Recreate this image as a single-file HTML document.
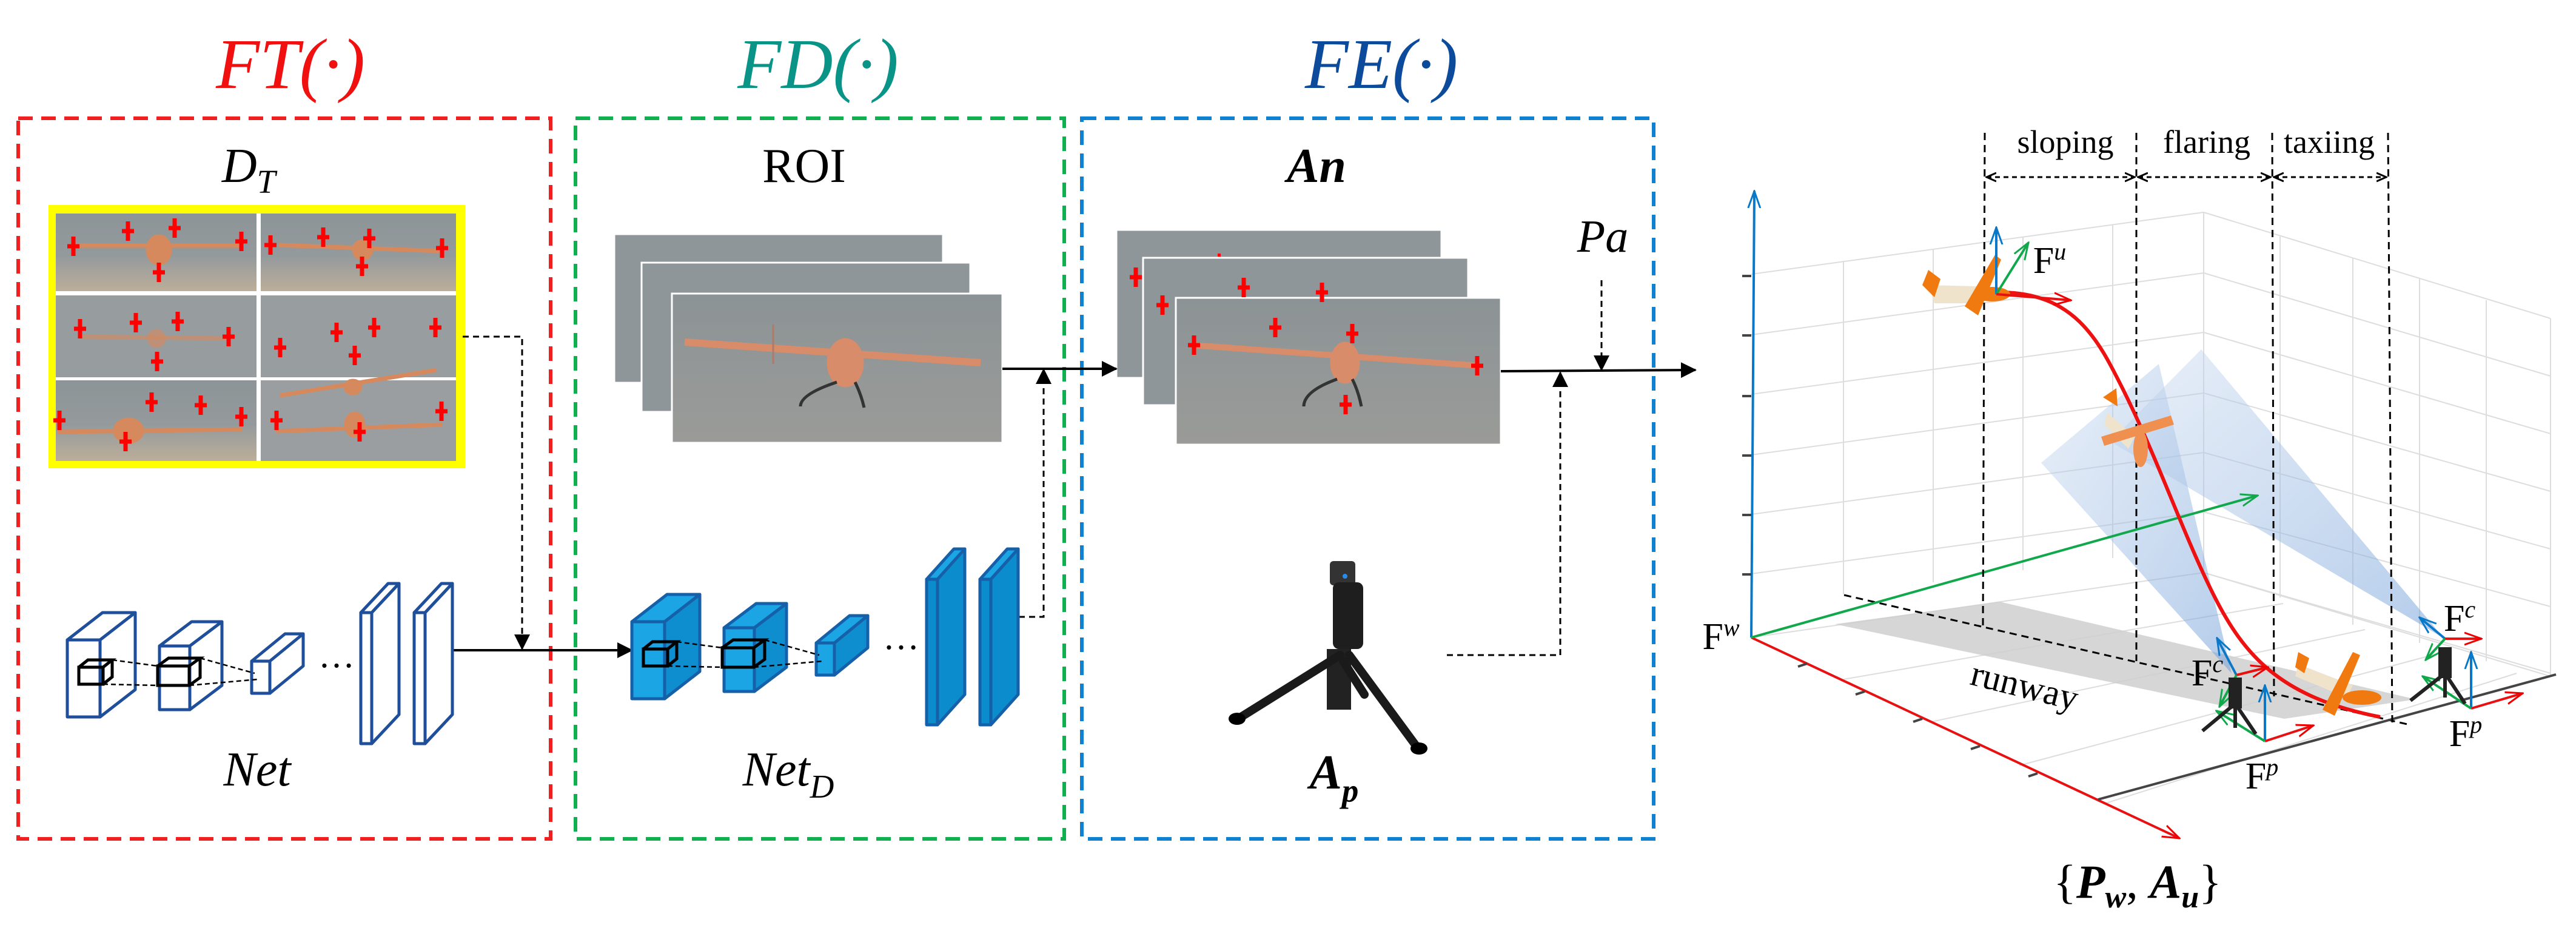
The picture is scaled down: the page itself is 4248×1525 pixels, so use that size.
<!DOCTYPE html>
<html><head><meta charset="utf-8"><style>
html,body{margin:0;padding:0;background:#fff;}
svg{display:block;font-family:"Liberation Serif","DejaVu Serif",serif;}
svg text{font-family:"Liberation Serif","DejaVu Serif",serif !important;}
</style></head><body>
<svg width="4248" height="1525" viewBox="0 0 4248 1525" xmlns="http://www.w3.org/2000/svg" font-family="Liberation Serif, serif">
<defs>
<marker id="ahs" markerWidth="26" markerHeight="30" refX="24" refY="15" orient="auto" markerUnits="userSpaceOnUse" viewBox="0 0 26 30"><path d="M0,2L26,15L0,28z" fill="#000"/></marker>
<marker id="oa" markerWidth="18" markerHeight="18" refX="16" refY="9" orient="auto-start-reverse" markerUnits="userSpaceOnUse" viewBox="0 0 18 18"><path d="M0,2L16,9L0,16" fill="none" stroke="#000" stroke-width="3"/></marker>
<marker id="ar" markerWidth="30" markerHeight="24" refX="28" refY="12" orient="auto" markerUnits="userSpaceOnUse" viewBox="0 0 30 24"><path d="M0,2L28,12L0,22" fill="none" stroke="#e00" stroke-width="3"/></marker>
<marker id="ab" markerWidth="30" markerHeight="24" refX="28" refY="12" orient="auto" markerUnits="userSpaceOnUse" viewBox="0 0 30 24"><path d="M0,2L28,12L0,22" fill="none" stroke="#0a78c8" stroke-width="3"/></marker>
<marker id="ag" markerWidth="30" markerHeight="24" refX="28" refY="12" orient="auto" markerUnits="userSpaceOnUse" viewBox="0 0 30 24"><path d="M0,2L28,12L0,22" fill="none" stroke="#10a84a" stroke-width="3"/></marker>
<linearGradient id="sky" x1="0" y1="0" x2="0" y2="1"><stop offset="0" stop-color="#8d9497"/><stop offset="0.55" stop-color="#949a9c"/><stop offset="1" stop-color="#bcae9a"/></linearGradient>
<linearGradient id="gry" x1="0" y1="0" x2="0" y2="1"><stop offset="0" stop-color="#8c9396"/><stop offset="1" stop-color="#9a9b98"/></linearGradient>
<linearGradient id="fr" x1="0" y1="0" x2="1" y2="1"><stop offset="0" stop-color="#c9d9ef" stop-opacity="0.6"/><stop offset="1" stop-color="#6f9ed8" stop-opacity="0.75"/></linearGradient>
<g id="cross"><path d="M-10,0H10M0,-16V16" stroke="#f00" stroke-width="7"/></g>
</defs>

<text x="479" y="145" font-size="118" font-style="italic" fill="#f01010" text-anchor="middle" font-family="Liberation Serif, serif">FT(·)</text>
<text x="1349" y="145" font-size="118" font-style="italic" fill="#0a9488" text-anchor="middle" font-family="Liberation Serif, serif">FD(·)</text>
<text x="2278" y="145" font-size="118" font-style="italic" fill="#0c4a9c" text-anchor="middle" font-family="Liberation Serif, serif">FE(·)</text>

<rect x="30" y="195" width="878" height="1188" fill="none" stroke="#f02020" stroke-width="6" stroke-dasharray="24 14"/>
<rect x="949" y="195" width="806" height="1188" fill="none" stroke="#10b050" stroke-width="6" stroke-dasharray="24 14"/>
<rect x="1784" y="195" width="943" height="1188" fill="none" stroke="#1080d0" stroke-width="6" stroke-dasharray="24 14"/>

<text x="410" y="300" font-size="80" font-style="italic" text-anchor="middle" font-family="Liberation Serif, serif">D<tspan font-size="55" dy="18">T</tspan></text>
<text x="1326" y="300" font-size="80" text-anchor="middle" font-family="Liberation Serif, serif">ROI</text>
<text x="2171" y="300" font-size="80" font-style="italic" font-weight="bold" text-anchor="middle" font-family="Liberation Serif, serif">An</text>
<text x="2643" y="415" font-size="76" font-style="italic" text-anchor="middle" font-family="Liberation Serif, serif">Pa</text>
<text x="424" y="1295" font-size="80" font-style="italic" text-anchor="middle" font-family="Liberation Serif, serif">Net</text>
<text x="1300" y="1295" font-size="80" font-style="italic" text-anchor="middle" font-family="Liberation Serif, serif">Net<tspan font-size="55" dy="20">D</tspan></text>
<text x="2200" y="1300" font-size="80" font-style="italic" font-weight="bold" text-anchor="middle" font-family="Liberation Serif, serif">A<tspan font-size="55" dy="22">p</tspan></text>

<rect x="80" y="338" width="687" height="434" fill="#ffff00"/>
<rect x="92" y="352" width="660" height="408" fill="#fff"/>
<rect x="92" y="352" width="331" height="128" fill="url(#sky)"/>
<rect x="430" y="352" width="322" height="128" fill="url(#sky)"/>
<rect x="92" y="487" width="331" height="135" fill="#979c9e"/>
<rect x="430" y="487" width="322" height="135" fill="#989d9f"/>
<rect x="92" y="627" width="331" height="133" fill="url(#sky)"/>
<rect x="430" y="627" width="322" height="133" fill="#9b9ea0"/>
<g stroke="#d7895e" stroke-width="7" fill="#d7895e">
<path d="M120,405H400"/><ellipse cx="262" cy="412" rx="18" ry="22"/>
<path d="M460,404L730,414"/><ellipse cx="598" cy="412" rx="14" ry="14"/>
<path d="M130,555L380,558" opacity="0.6"/><ellipse cx="258" cy="558" rx="12" ry="12" opacity="0.6"/>
<path d="M462,652L720,610"/><ellipse cx="582" cy="638" rx="12" ry="10"/>
<path d="M95,712L400,708"/><ellipse cx="212" cy="710" rx="22" ry="18"/>
<path d="M455,711L730,700"/><ellipse cx="585" cy="700" rx="14" ry="18"/>
</g>
<g>
<use href="#cross" x="121" y="406"/><use href="#cross" x="211" y="381"/><use href="#cross" x="288" y="376"/><use href="#cross" x="398" y="398"/><use href="#cross" x="262" y="449"/>
<use href="#cross" x="446" y="404"/><use href="#cross" x="533" y="391"/><use href="#cross" x="609" y="393"/><use href="#cross" x="729" y="409"/><use href="#cross" x="597" y="439"/>
<use href="#cross" x="132" y="542"/><use href="#cross" x="224" y="532"/><use href="#cross" x="293" y="530"/><use href="#cross" x="377" y="555"/><use href="#cross" x="259" y="596"/>
<use href="#cross" x="462" y="573"/><use href="#cross" x="555" y="548"/><use href="#cross" x="617" y="540"/><use href="#cross" x="718" y="540"/><use href="#cross" x="585" y="586"/>
<use href="#cross" x="98" y="693"/><use href="#cross" x="250" y="663"/><use href="#cross" x="331" y="668"/><use href="#cross" x="398" y="687"/><use href="#cross" x="207" y="728"/>
<use href="#cross" x="456" y="693"/><use href="#cross" x="728" y="678"/><use href="#cross" x="593" y="712"/>
</g>

<rect x="1013" y="386" width="542" height="245" fill="#8f969a" stroke="#fff" stroke-width="3"/>
<rect x="1058" y="433" width="542" height="246" fill="#8f969a" stroke="#fff" stroke-width="3"/>
<rect x="1108" y="484" width="545" height="246" fill="url(#gry)" stroke="#fff" stroke-width="3"/>
<g stroke="#d98c6a" fill="#d98c6a">
<path d="M1129,564L1617,598" stroke-width="12"/>
<ellipse cx="1394" cy="598" rx="30" ry="40"/>
<path d="M1275,535V600" stroke-width="3" stroke="#b07a66"/>
</g>
<path d="M1380,630Q1320,650 1320,670M1410,630Q1420,650 1425,672" stroke="#333" stroke-width="5" fill="none"/>

<rect x="1841" y="379" width="536" height="244" fill="#8f969a" stroke="#fff" stroke-width="3"/>
<rect x="1885" y="425" width="536" height="243" fill="#8f969a" stroke="#fff" stroke-width="3"/>
<rect x="1939" y="491" width="536" height="242" fill="url(#gry)" stroke="#fff" stroke-width="3"/>
<g stroke="#d98c6a" fill="#d98c6a">
<path d="M1966,569L2439,603" stroke-width="10"/>
<ellipse cx="2218" cy="598" rx="24" ry="34"/>
</g>
<path d="M2205,625Q2150,645 2150,670M2230,625Q2240,645 2245,670" stroke="#333" stroke-width="5" fill="none"/>
<g>
<use href="#cross" x="1873" y="457"/><use href="#cross" x="1917" y="503"/><use href="#cross" x="2051" y="474"/><use href="#cross" x="2180" y="482"/><use href="#cross" x="2103" y="540"/><use href="#cross" x="2230" y="550"/><use href="#cross" x="1969" y="569"/><use href="#cross" x="2436" y="603"/><use href="#cross" x="2219" y="667"/>
<rect x="2008" y="418" width="5" height="5" fill="#f00"/>
</g>

<line x1="1653" y1="608" x2="1841" y2="608" stroke="#000" stroke-width="4" marker-end="url(#ahs)"/>
<line x1="2475" y1="612" x2="2796" y2="610" stroke="#000" stroke-width="4" marker-end="url(#ahs)"/>
<line x1="2641" y1="462" x2="2641" y2="610" stroke="#000" stroke-width="3" stroke-dasharray="10 7" marker-end="url(#ahs)"/>
<polyline points="2386,1080 2573,1080 2573,614" fill="none" stroke="#000" stroke-width="3" stroke-dasharray="10 7" marker-end="url(#ahs)"/>
<polyline points="763,555 861,555 861,1070" fill="none" stroke="#000" stroke-width="3" stroke-dasharray="10 7" marker-end="url(#ahs)"/>
<line x1="747" y1="1072" x2="1042" y2="1072" stroke="#000" stroke-width="4" marker-end="url(#ahs)"/>
<polyline points="1680,1017 1721,1017 1721,609" fill="none" stroke="#000" stroke-width="3" stroke-dasharray="10 7" marker-end="url(#ahs)"/>

<g fill="#fff" stroke="#1f4f9a" stroke-width="5" stroke-linejoin="round">
<rect x="111" y="1055" width="54" height="127"/><polygon points="111,1055 169,1010 223,1010 165,1055"/><polygon points="165,1055 223,1010 223,1137 165,1182"/>
<rect x="263" y="1065" width="50" height="105"/><polygon points="263,1065 316,1025 366,1025 313,1065"/><polygon points="313,1065 366,1025 366,1130 313,1170"/>
<rect x="415" y="1090" width="30" height="53"/><polygon points="415,1090 470,1045 500,1045 445,1090"/><polygon points="445,1090 500,1045 500,1098 445,1143"/>
<rect x="595" y="1010" width="18" height="216"/><polygon points="595,1010 640,962 658,962 613,1010"/><polygon points="613,1010 658,962 658,1178 613,1226"/>
<rect x="683" y="1010" width="18" height="216"/><polygon points="683,1010 728,962 746,962 701,1010"/><polygon points="701,1010 746,962 746,1178 701,1226"/>
</g>
<g fill="none" stroke="#000" stroke-width="5">
<rect x="130" y="1100" width="40" height="28"/><polyline points="130,1100 145,1088 185,1088 170,1100"/><polyline points="185,1088 185,1116 170,1128"/>
<rect x="260" y="1098" width="52" height="32"/><polyline points="260,1098 278,1085 330,1085 312,1098"/><polyline points="330,1085 330,1117 312,1130"/>
</g>
<g stroke="#000" stroke-width="2.5" stroke-dasharray="8 5"><line x1="185" y1="1088" x2="260" y2="1098"/><line x1="170" y1="1128" x2="260" y2="1130"/><line x1="330" y1="1085" x2="420" y2="1110"/><line x1="312" y1="1130" x2="425" y2="1120"/></g>
<text x="555" y="1100" font-size="60" text-anchor="middle" font-family="Liberation Serif, serif">…</text>

<g transform="translate(931,-30)">
<g fill="#1ba5e5" stroke="#1560a8" stroke-width="5" stroke-linejoin="round">
<rect x="111" y="1055" width="54" height="127"/><polygon points="111,1055 169,1010 223,1010 165,1055"/><polygon points="165,1055 223,1010 223,1137 165,1182" fill="#0f8ecf"/>
<rect x="263" y="1065" width="50" height="105"/><polygon points="263,1065 316,1025 366,1025 313,1065"/><polygon points="313,1065 366,1025 366,1130 313,1170" fill="#0f8ecf"/>
<rect x="415" y="1090" width="30" height="53"/><polygon points="415,1090 470,1045 500,1045 445,1090"/><polygon points="445,1090 500,1045 500,1098 445,1143" fill="#0f8ecf"/>
<rect x="597" y="985" width="18" height="240" fill="#0b8ccc"/><polygon points="597,985 642,935 660,935 615,985"/><polygon points="615,985 660,935 660,1175 615,1225" fill="#0b8ccc"/>
<rect x="685" y="985" width="18" height="240" fill="#0b8ccc"/><polygon points="685,985 730,935 748,935 703,985"/><polygon points="703,985 748,935 748,1175 703,1225" fill="#0b8ccc"/>
</g>
<g fill="none" stroke="#000" stroke-width="5">
<rect x="130" y="1100" width="40" height="28"/><polyline points="130,1100 145,1088 185,1088 170,1100"/><polyline points="185,1088 185,1116 170,1128"/>
<rect x="260" y="1098" width="52" height="32"/><polyline points="260,1098 278,1085 330,1085 312,1098"/><polyline points="330,1085 330,1117 312,1130"/>
</g>
<g stroke="#000" stroke-width="2.5" stroke-dasharray="8 5"><line x1="185" y1="1088" x2="260" y2="1098"/><line x1="170" y1="1128" x2="260" y2="1130"/><line x1="330" y1="1085" x2="420" y2="1110"/><line x1="312" y1="1130" x2="425" y2="1120"/></g>
<text x="555" y="1100" font-size="60" text-anchor="middle" font-family="Liberation Serif, serif">…</text>
</g>

<g>
<rect x="2193" y="925" width="42" height="40" rx="6" fill="#333"/>
<rect x="2198" y="960" width="50" height="110" rx="10" fill="#1e1e1e"/>
<rect x="2188" y="1070" width="40" height="100" fill="#222"/>
<path d="M2210,1080L2045,1183M2225,1080L2337,1232M2215,1090L2250,1145" stroke="#1a1a1a" stroke-width="14" stroke-linecap="round" fill="none"/>
<ellipse cx="2040" cy="1185" rx="14" ry="10" fill="#000"/><ellipse cx="2340" cy="1234" rx="14" ry="10" fill="#000"/>
<circle cx="2218" cy="950" r="4" fill="#2a8af0"/>
</g>

<g stroke="#ddd" stroke-width="2" fill="none">
<path d="M2888,452L3634,350M2888,552L3634,450M2888,650L3634,548M2888,750L3634,648M2888,848L3634,746M2888,946L3634,844"/>
<path d="M3634,350L4206,525M3634,450L4206,620M3634,548L4206,715M3634,648L4206,810M3634,746L4206,905M3634,844L4206,1000M3634,944L4206,1110"/>
<path d="M3040,430V980M3188,410V960M3336,390V940M3484,370V920M3634,350V944M3760,390V985M3880,425V1030M3990,460V1060M4100,495V1090M4206,525V1115"/>
<path d="M2888,1051L3634,944L4206,1115M3040,1120L3765,995M3185,1190L3900,1038M3330,1262L4030,1075M3470,1325L4150,1110"/>
</g>
<polygon points="3026,1029 3298,992 3984,1153 3767,1185" fill="#cfcfcf" opacity="0.85"/>
<line x1="3041" y1="981" x2="3974" y2="1195" stroke="#000" stroke-width="3" stroke-dasharray="12 8"/>
<text x="3337" y="1150" font-size="60" transform="rotate(14 3337 1138)" text-anchor="middle" font-family="Liberation Serif, serif">runway</text>
<polygon points="3366,763 3560,600 3680,1110" fill="url(#fr)" opacity="0.7"/>
<polygon points="3480,728 3630,576 4030,1052" fill="url(#fr)" opacity="0.7"/>
<line x1="2888" y1="1051" x2="2893" y2="315" stroke="#0a78c8" stroke-width="4" marker-end="url(#ab)"/>
<line x1="2888" y1="1051" x2="3594" y2="1382" stroke="#e81010" stroke-width="4" marker-end="url(#ar)"/>
<line x1="2888" y1="1051" x2="3723" y2="817" stroke="#10a84a" stroke-width="4" marker-end="url(#ag)"/>
<line x1="3460" y1="1318" x2="4215" y2="1112" stroke="#444" stroke-width="4"/>
<g stroke="#444" stroke-width="4"><path d="M2873,455h15M2873,553h15M2873,653h15M2873,751h15M2873,849h15M2873,947h15"/><path d="M2980,1094l-15,5M3075,1140l-15,5M3170,1185l-15,5M3265,1230l-15,5M3360,1275l-15,5"/></g>
<g stroke="#000" stroke-width="3" stroke-dasharray="12 8" fill="none">
<line x1="3273" y1="219" x2="3270" y2="1031"/><line x1="3523" y1="219" x2="3523" y2="1090"/><line x1="3747" y1="219" x2="3750" y2="1148"/><line x1="3938" y1="219" x2="3945" y2="1192"/>
<line x1="3276" y1="292" x2="3520" y2="292" marker-start="url(#oa)" marker-end="url(#oa)" stroke-dasharray="8 6"/>
<line x1="3526" y1="292" x2="3744" y2="292" marker-start="url(#oa)" marker-end="url(#oa)" stroke-dasharray="8 6"/>
<line x1="3750" y1="292" x2="3935" y2="292" marker-start="url(#oa)" marker-end="url(#oa)" stroke-dasharray="8 6"/>
</g>
<text x="3406" y="252" font-size="54" text-anchor="middle" font-family="Liberation Serif, serif">sloping</text>
<text x="3639" y="252" font-size="54" text-anchor="middle" font-family="Liberation Serif, serif">flaring</text>
<text x="3841" y="252" font-size="54" text-anchor="middle" font-family="Liberation Serif, serif">taxiing</text>
<path d="M3293,482C3420,480 3460,560 3500,640C3560,760 3600,880 3650,980C3700,1080 3760,1150 3925,1182" fill="none" stroke="#ee1111" stroke-width="6"/>
<g fill="#f07a10">
<polygon points="3180,470 3260,472 3270,500 3190,500" fill="#efe3cc"/>
<polygon points="3240,505 3290,420 3300,428 3262,520"/><polygon points="3180,445 3200,460 3190,490 3170,470"/><ellipse cx="3285" cy="485" rx="30" ry="12"/>
<polygon points="3475,680 3520,720 3510,740 3470,700" fill="#efe3cc"/>
<polygon points="3465,720 3580,685 3585,700 3470,735" fill="#f09050"/><ellipse cx="3530" cy="740" rx="12" ry="30" fill="#f09050"/><polygon points="3468,655 3490,640 3492,670"/>
<polygon points="3790,1095 3880,1130 3870,1150 3785,1115" fill="#efe3cc"/>
<polygon points="3830,1170 3880,1075 3892,1080 3850,1180"/><ellipse cx="3895" cy="1150" rx="32" ry="12"/><polygon points="3790,1075 3808,1085 3800,1110 3785,1100"/>
</g>
<g stroke-width="4" fill="none">
<line x1="3292" y1="485" x2="3292" y2="375" stroke="#0a78c8" marker-end="url(#ab)"/>
<line x1="3292" y1="485" x2="3345" y2="400" stroke="#10a84a" marker-end="url(#ag)"/>
<line x1="3292" y1="485" x2="3415" y2="495" stroke="#e81010" marker-end="url(#ar)"/>
<line x1="3688" y1="1113" x2="3656" y2="1052" stroke="#0a78c8" marker-end="url(#ab)"/>
<line x1="3688" y1="1113" x2="3740" y2="1100" stroke="#e81010" marker-end="url(#ar)"/>
<line x1="3688" y1="1113" x2="3660" y2="1165" stroke="#10a84a" marker-end="url(#ag)"/>
<line x1="3735" y1="1222" x2="3735" y2="1130" stroke="#0a78c8" marker-end="url(#ab)"/>
<line x1="3735" y1="1222" x2="3815" y2="1196" stroke="#e81010" marker-end="url(#ar)"/>
<line x1="3735" y1="1222" x2="3655" y2="1172" stroke="#10a84a" marker-end="url(#ag)"/>
<line x1="4032" y1="1053" x2="3990" y2="1018" stroke="#0a78c8" marker-end="url(#ab)"/>
<line x1="4032" y1="1053" x2="4092" y2="1053" stroke="#e81010" marker-end="url(#ar)"/>
<line x1="4032" y1="1053" x2="4000" y2="1088" stroke="#10a84a" marker-end="url(#ag)"/>
<line x1="4075" y1="1168" x2="4075" y2="1075" stroke="#0a78c8" marker-end="url(#ab)"/>
<line x1="4075" y1="1168" x2="4160" y2="1143" stroke="#e81010" marker-end="url(#ar)"/>
<line x1="4075" y1="1168" x2="3995" y2="1115" stroke="#10a84a" marker-end="url(#ag)"/>
</g>
<g stroke="#222" stroke-width="6">
<rect x="3678" y="1120" width="16" height="45" fill="#222"/><path d="M3686,1160L3632,1205M3686,1160L3720,1210M3686,1160L3686,1200"/>
<rect x="4024" y="1070" width="16" height="45" fill="#222"/><path d="M4032,1110L3975,1155M4032,1110L4065,1160M4032,1110L4032,1150"/>
</g>
<text x="2838" y="1070" font-size="62" text-anchor="middle" font-family="Liberation Serif, serif">F<tspan font-size="40" font-style="italic" dy="-22">w</tspan></text>
<text x="3380" y="450" font-size="62" text-anchor="middle" font-family="Liberation Serif, serif">F<tspan font-size="40" font-style="italic" dy="-22">u</tspan></text>
<text x="3640" y="1130" font-size="62" text-anchor="middle" font-family="Liberation Serif, serif">F<tspan font-size="40" font-style="italic" dy="-22">c</tspan></text>
<text x="4056" y="1040" font-size="62" text-anchor="middle" font-family="Liberation Serif, serif">F<tspan font-size="40" font-style="italic" dy="-22">c</tspan></text>
<text x="3730" y="1300" font-size="62" text-anchor="middle" font-family="Liberation Serif, serif">F<tspan font-size="40" font-style="italic" dy="-22">p</tspan></text>
<text x="4066" y="1230" font-size="62" text-anchor="middle" font-family="Liberation Serif, serif">F<tspan font-size="40" font-style="italic" dy="-22">p</tspan></text>
<text x="3525" y="1480" font-size="78" text-anchor="middle" font-family="Liberation Serif, serif">{<tspan font-weight="bold" font-style="italic">P</tspan><tspan font-size="52" font-weight="bold" font-style="italic" dy="16">w</tspan><tspan dy="-16">, </tspan><tspan font-weight="bold" font-style="italic">A</tspan><tspan font-size="52" font-weight="bold" font-style="italic" dy="16">u</tspan><tspan dy="-16">}</tspan></text>
</svg>
</body></html>
